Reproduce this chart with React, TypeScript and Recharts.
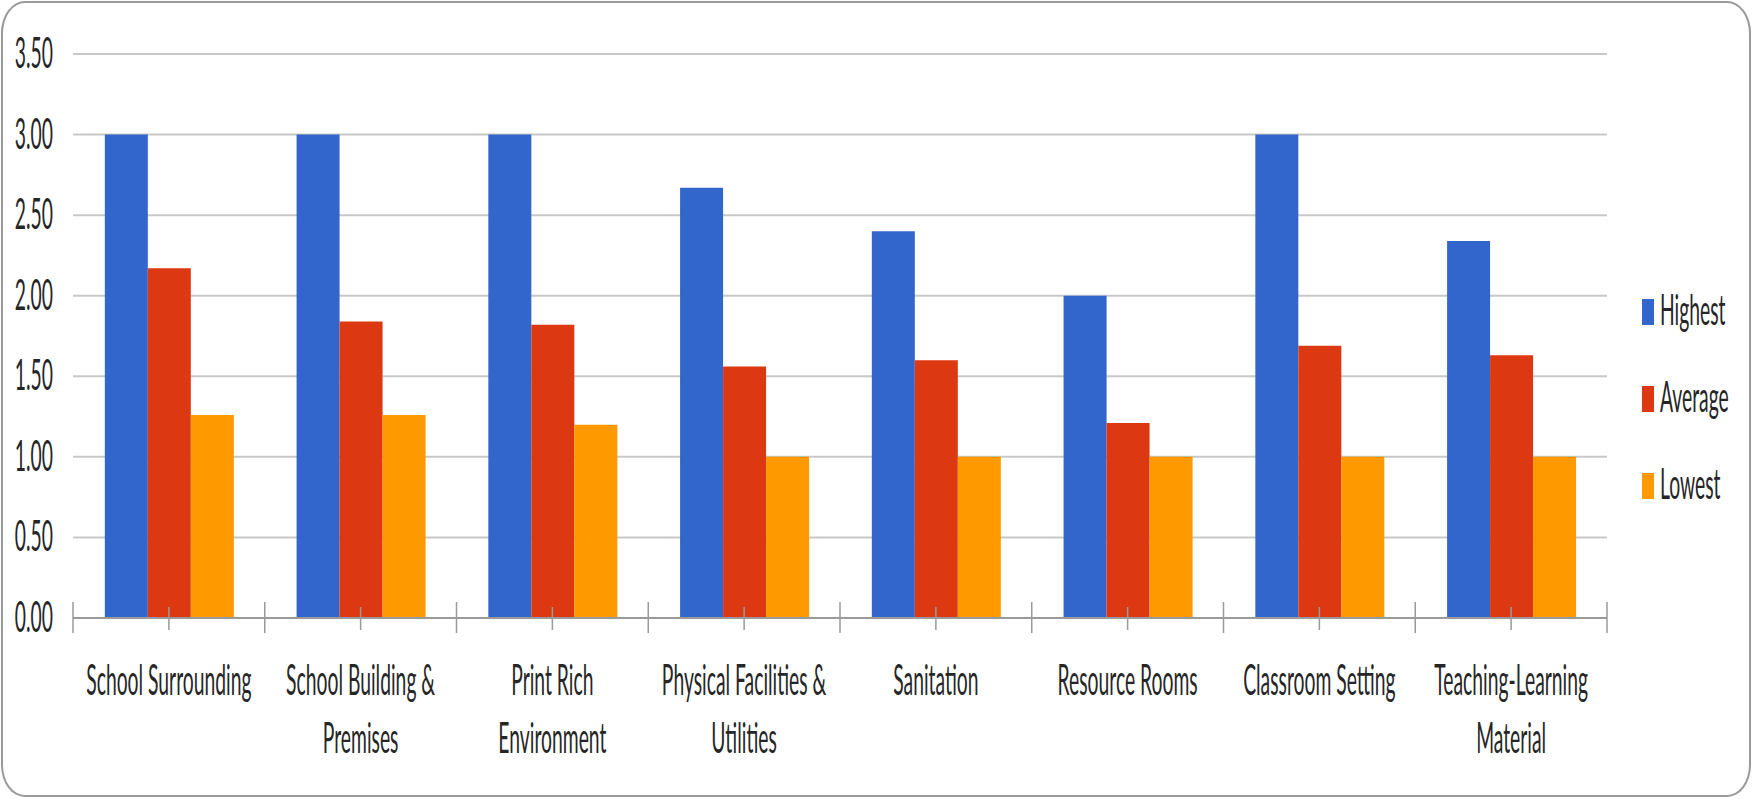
import React from 'react';
import { BarChart, Bar, XAxis, YAxis, CartesianGrid } from 'recharts';

const categories = [
  'School Surrounding',
  'School Building & Premises',
  'Print Rich Environment',
  'Physical Facilities & Utilities',
  'Sanitation',
  'Resource Rooms',
  'Classroom Setting',
  'Teaching-Learning Material',
];
const tickLabelLines = [
  ['School Surrounding'],
  ['School Building &', 'Premises'],
  ['Print Rich', 'Environment'],
  ['Physical Facilities &', 'Utilities'],
  ['Sanitation'],
  ['Resource Rooms'],
  ['Classroom Setting'],
  ['Teaching-Learning', 'Material'],
];
const highest = [3.0, 3.0, 3.0, 2.67, 2.4, 2.0, 3.0, 2.34];
const average = [2.17, 1.84, 1.82, 1.56, 1.6, 1.21, 1.69, 1.63];
const lowest = [1.26, 1.26, 1.2, 1.0, 1.0, 1.0, 1.0, 1.0];
const yTicks = [0, 0.5, 1, 1.5, 2, 2.5, 3, 3.5];

const seriesNames = ['Highest', 'Average', 'Lowest'];
const seriesKeys = ['highest', 'average', 'lowest'];
const seriesColors = ['#3366CC', '#DC3912', '#FF9900'];

const data = categories.map((c, i) => ({
  category: c,
  highest: highest[i],
  average: average[i],
  lowest: lowest[i],
}));

const FONT = 'Lato, "Open Sans", sans-serif';
const FONT_SIZE = 42;
const SX = 0.46;
const TEXT_COLOR = '#262626';

const YTick = (props: any) => {
  const { x, y, payload } = props;
  return (
    <text
      transform={`translate(${x - 20}, ${y + 14}) scale(${SX}, 1)`}
      textAnchor="end"
      fontFamily={FONT}
      fontSize={FONT_SIZE}
      fill={TEXT_COLOR}
    >
      {Number(payload.value).toFixed(2)}
    </text>
  );
};

const XTick = (props: any) => {
  const { x, y, payload, index } = props;
  const idx = typeof index === 'number' ? index : categories.indexOf(payload.value);
  const half = payload && typeof payload.offset === 'number' && payload.offset > 0 ? payload.offset : 1534 / 16;
  const lines = tickLabelLines[idx] || [String(payload.value)];
  const isLast = idx === categories.length - 1;
  return (
    <g>
      <line x1={x} x2={x} y1={y - 11} y2={y + 12} stroke="#9a9a9a" strokeWidth={1.5} />
      <line x1={x - half} x2={x - half} y1={y - 16} y2={y + 15} stroke="#9a9a9a" strokeWidth={1.5} />
      {isLast && (
        <line x1={x + half} x2={x + half} y1={y - 16} y2={y + 15} stroke="#9a9a9a" strokeWidth={1.5} />
      )}
      {lines.map((ln, i) => (
        <text
          key={i}
          transform={`translate(${x}, ${y + 77 + i * 58}) scale(${SX}, 1)`}
          textAnchor="middle"
          fontFamily={FONT}
          fontSize={FONT_SIZE}
          fill={TEXT_COLOR}
        >
          {ln}
        </text>
      ))}
    </g>
  );
};

const legendTops = [299, 386, 473];

export default function App() {
  return (
    <div
      style={{
        position: 'absolute',
        left: 0,
        top: 0,
        width: 1753,
        height: 799,
        background: '#fff',
        overflow: 'hidden',
      }}
    >
      <div
        style={{
          position: 'absolute',
          left: 1,
          top: 1,
          width: 1750,
          height: 796,
          boxSizing: 'border-box',
          border: '2px solid #999',
          borderRadius: '24px / 32px',
        }}
      />
      <div style={{ position: 'absolute', left: 0, top: 0 }}>
        <BarChart
          width={1753}
          height={799}
          data={data}
          margin={{ top: 54, right: 146, bottom: 0, left: 0 }}
          barCategoryGap="16.6%"
          barGap={0}
        >
          <CartesianGrid vertical={false} stroke="#c8c8c8" strokeWidth={2} />
          <YAxis
            type="number"
            domain={[0, 3.5]}
            ticks={yTicks}
            width={73}
            axisLine={false}
            tickLine={false}
            tickSize={0}
            tickMargin={0}
            tick={<YTick />}
            interval={0}
          />
          <XAxis
            dataKey="category"
            height={181}
            axisLine={{ stroke: '#9a9a9a', strokeWidth: 2 }}
            tickLine={false}
            tickSize={0}
            tickMargin={0}
            tick={<XTick />}
            interval={0}
          />
          {seriesKeys.map((k, i) => (
            <Bar key={k} dataKey={k} name={seriesNames[i]} fill={seriesColors[i]} isAnimationActive={false} />
          ))}
        </BarChart>
      </div>
      <svg
        width={1753}
        height={799}
        style={{ position: 'absolute', left: 0, top: 0, pointerEvents: 'none' }}
      >
        {seriesNames.map((n, i) => (
          <g key={n}>
            <rect x={1642} y={legendTops[i]} width={12} height={26} fill={seriesColors[i]} />
            <text
              transform={`translate(1660, ${legendTops[i] + 26}) scale(${SX}, 1)`}
              fontFamily={FONT}
              fontSize={FONT_SIZE}
              fill={TEXT_COLOR}
            >
              {n}
            </text>
          </g>
        ))}
      </svg>
    </div>
  );
}
